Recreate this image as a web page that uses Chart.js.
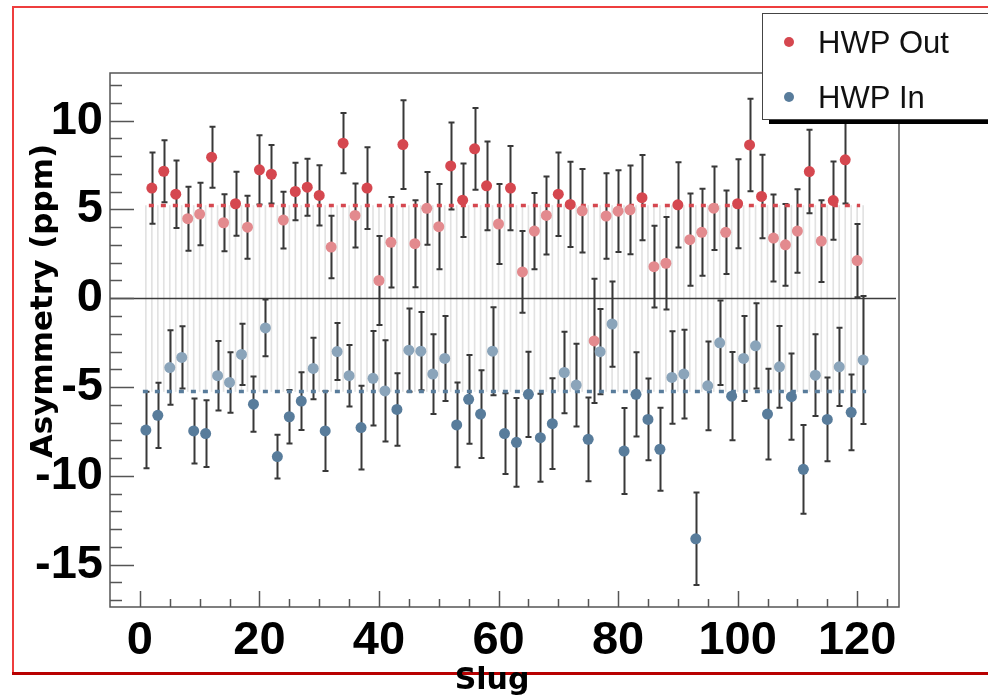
<!DOCTYPE html>
<html>
<head>
<meta charset="utf-8">
<title>Asymmetry vs Slug</title>
<script src="https://cdn.jsdelivr.net/npm/chart.js@4.4.1/dist/chart.umd.min.js"></script>
<style>
  html, body { margin: 0; padding: 0; background: #fff; }
  canvas { display: block; }
</style>
</head>
<body>
<canvas id="asymChart" width="988" height="698"></canvas>
<script>
// HWP Out (even slugs)
const slugsOut = [2, 4, 6, 8, 10, 12, 14, 16, 18, 20, 22, 24, 26, 28, 30, 32, 34, 36, 38, 40,
  42, 44, 46, 48, 50, 52, 54, 56, 58, 60, 62, 64, 66, 68, 70, 72, 74, 76, 78, 80,
  82, 84, 86, 88, 90, 92, 94, 96, 98, 100, 102, 104, 106, 108, 110, 112, 114, 116, 118, 120];
const asymOut = [6.2, 7.15, 5.86, 4.48, 4.74, 7.94, 4.25, 5.32, 4.0, 7.23,
  6.98, 4.4, 6.01, 6.25, 5.79, 2.88, 8.73, 4.66, 6.2, 1.0,
  3.15, 8.65, 3.07, 5.06, 4.03, 7.45, 5.52, 8.41, 6.33, 4.18,
  6.2, 1.48, 3.78, 4.66, 5.86, 5.28, 4.92, -2.4, 4.63, 4.9,
  4.98, 5.66, 1.78, 1.97, 5.26, 3.3, 3.71, 5.07, 3.71, 5.32,
  8.63, 5.73, 3.39, 3.01, 3.78, 7.13, 3.22, 5.5, 7.79, 2.12];
const errOut = [2.0, 1.75, 1.9, 1.8, 1.76, 1.72, 1.6, 1.8, 1.77, 1.95,
  1.65, 1.6, 1.62, 1.6, 1.7, 1.76, 1.7, 1.8, 2.3, 2.5,
  2.55, 2.5, 2.45, 2.05, 2.4, 2.45, 2.07, 2.3, 2.5, 2.25,
  2.37, 2.3, 2.15, 2.2, 2.35, 2.4, 2.35, 3.5, 2.4, 2.3,
  2.5, 2.4, 2.3, 2.6, 2.4, 2.6, 2.45, 2.35, 2.35, 2.5,
  2.6, 2.35, 2.45, 2.3, 2.35, 2.35, 2.3, 2.2, 2.45, 2.06];

// HWP In (odd slugs)
const slugsIn = [1, 3, 5, 7, 9, 11, 13, 15, 17, 19, 21, 23, 25, 27, 29, 31, 33, 35, 37, 39,
  41, 43, 45, 47, 49, 51, 53, 55, 57, 59, 61, 63, 65, 67, 69, 71, 73, 75, 77, 79,
  81, 83, 85, 87, 89, 91, 93, 95, 97, 99, 101, 103, 105, 107, 109, 111, 113, 115, 117, 119, 121];
const asymIn = [-7.42, -6.59, -3.9, -3.33, -7.47, -7.62, -4.36, -4.74, -3.16, -5.96,
  -1.67, -8.91, -6.67, -5.79, -3.95, -7.47, -3.0, -4.36, -7.28, -4.51,
  -5.22, -6.26, -2.92, -2.98, -4.27, -3.39, -7.13, -5.69, -6.52, -2.98,
  -7.62, -8.11, -5.41, -7.85, -7.06, -4.18, -4.89, -7.94, -3.01, -1.45,
  -8.6, -5.41, -6.82, -8.5, -4.46, -4.27, -13.54, -4.93, -2.51, -5.51,
  -3.39, -2.68, -6.52, -3.86, -5.54, -9.63, -4.33, -6.82, -3.86, -6.42,
  -3.48];
const errIn = [2.15, 1.84, 2.1, 1.75, 1.83, 1.88, 1.96, 1.7, 1.72, 1.56,
  1.6, 1.23, 1.5, 1.63, 1.73, 2.25, 1.6, 1.73, 2.36, 2.66,
  2.85, 2.04, 2.34, 2.2, 2.25, 2.39, 2.39, 2.5, 2.47, 2.48,
  2.27, 2.5, 2.4, 2.48, 2.55, 2.3, 2.33, 2.36, 2.4, 2.4,
  2.42, 2.37, 2.3, 2.34, 2.6, 2.5, 2.6, 2.5, 2.38, 2.48,
  2.39, 2.4, 2.55, 2.3, 2.43, 2.5, 2.3, 2.36, 2.2, 2.13,
  3.6];

// fitted averages
const meanOut = 5.22;
const meanIn = -5.25;

const xTickLabels = [0, 20, 40, 60, 80, 100, 120];
const yTickLabels = [-15, -10, -5, 0, 5, 10];

const RED = '#d5474f', RED_LIGHT = '#e38a8e';
const BLUE = '#587c9b', BLUE_LIGHT = '#8aa4ba';
const tickFont = { family: 'Liberation Sans', size: 47, weight: 'bold' };

const allSlugs = slugsIn.concat(slugsOut).sort((a, b) => a - b);

function pts(xs, ys) {
    return xs.map((x, i) => ({ x: x, y: ys[i] }));
}

function errorBars(chart, xs, ys, es) {
    const ctx = chart.ctx;
    const sx = chart.scales.x, sy = chart.scales.y;
    ctx.save();
    ctx.strokeStyle = '#383838';
    ctx.lineWidth = 2;
    xs.forEach((s, i) => {
        const px = Math.round(sx.getPixelForValue(s)) + 0.5;
        const top = sy.getPixelForValue(ys[i] + es[i]);
        const bot = sy.getPixelForValue(ys[i] - es[i]);
        ctx.beginPath();
        ctx.moveTo(px, top); ctx.lineTo(px, bot);
        ctx.moveTo(px - 3, top); ctx.lineTo(px + 3, top);
        ctx.moveTo(px - 3, bot); ctx.lineTo(px + 3, bot);
        ctx.stroke();
    });
    ctx.restore();
}

const rootLook = {
    id: 'rootLook',
    beforeDraw(chart) {
        // red canvas outline
        const ctx = chart.ctx;
        ctx.save();
        ctx.strokeStyle = '#ee3d3d';
        ctx.lineWidth = 2;
        ctx.strokeRect(13, 7, 990, 666);
        ctx.strokeStyle = '#b80000';
        ctx.lineWidth = 3;
        ctx.beginPath();
        ctx.moveTo(12, 673.5); ctx.lineTo(988, 673.5);
        ctx.stroke();
        ctx.restore();
    },
    afterDatasetDraw(chart, args) {
        if (args.index !== 2) return;
        const ctx = chart.ctx;
        const a = chart.chartArea;
        const y0 = Math.round(chart.scales.y.getPixelForValue(0)) + 0.5;
        ctx.save();
        ctx.strokeStyle = '#3c3c3c';
        ctx.lineWidth = 1.5;
        ctx.beginPath();
        ctx.moveTo(a.left, y0); ctx.lineTo(a.right - 3, y0);
        ctx.stroke();
        ctx.restore();
        errorBars(chart, slugsOut, asymOut, errOut);
        errorBars(chart, slugsIn, asymIn, errIn);
    },
    afterDatasetsDraw(chart) {
        const ctx = chart.ctx;
        const a = chart.chartArea;
        const sx = chart.scales.x, sy = chart.scales.y;
        ctx.save();
        ctx.strokeStyle = '#555';
        ctx.lineWidth = 1.5;
        ctx.strokeRect(a.left, a.top, a.right - a.left, a.bottom - a.top);
        ctx.beginPath();
        for (let v = Math.ceil(sy.min); v <= Math.floor(sy.max); v++) {
            const py = Math.round(sy.getPixelForValue(v)) + 0.5;
            ctx.moveTo(a.left, py);
            ctx.lineTo(a.left + (v % 5 === 0 ? 24 : 12), py);
        }
        for (let v = 0; v <= sx.max; v += 5) {
            const px = Math.round(sx.getPixelForValue(v)) + 0.5;
            ctx.moveTo(px, a.bottom);
            ctx.lineTo(px, a.bottom - (v % 20 === 0 ? 16 : 8));
        }
        ctx.stroke();
        ctx.restore();
    },
    afterDraw(chart) {
        const ctx = chart.ctx;
        ctx.save();
        // axis titles
        ctx.fillStyle = '#000';
        ctx.font = 'bold 30px "DejaVu Sans"';
        ctx.textAlign = 'center';
        ctx.textBaseline = 'alphabetic';
        ctx.fillText('Slug', 492, 689);
        ctx.translate(52, 301);
        ctx.rotate(-Math.PI / 2);
        ctx.font = 'bold 31px "DejaVu Sans"';
        ctx.fillText('Asymmetry (ppm)', 0, 0);
        ctx.restore();

        // legend box with shadow
        ctx.save();
        ctx.fillStyle = '#000';
        ctx.fillRect(769, 120, 230, 4);
        ctx.fillStyle = '#fff';
        ctx.fillRect(762, 13, 240, 107);
        ctx.strokeStyle = '#444';
        ctx.lineWidth = 1;
        ctx.strokeRect(762.5, 13.5, 240, 106);
        const items = chart.data.datasets.slice(0, 2);
        items.forEach((ds, i) => {
            const cy = 42 + i * 55;
            ctx.fillStyle = i === 0 ? RED : BLUE;
            ctx.beginPath();
            ctx.arc(789, cy, 5, 0, Math.PI * 2);
            ctx.fill();
            ctx.fillStyle = '#111';
            ctx.font = '31px "Liberation Sans"';
            ctx.textBaseline = 'alphabetic';
            ctx.fillText(ds.label, 818, cy + 11);
        });
        ctx.restore();
    }
};

function shade(base, light) {
    return c => {
        const v = c.raw ? c.raw.y : 0;
        return (v < meanOut && v > meanIn) ? light : base;
    };
}

new Chart(document.getElementById('asymChart'), {
    type: 'scatter',
    data: {
        datasets: [
            {
                label: 'HWP Out',
                data: pts(slugsOut, asymOut),
                backgroundColor: shade(RED, RED_LIGHT),
                borderWidth: 0,
                pointRadius: 5.5,
                order: 1
            },
            {
                label: 'HWP In',
                data: pts(slugsIn, asymIn),
                backgroundColor: shade(BLUE, BLUE_LIGHT),
                borderWidth: 0,
                pointRadius: 5.5,
                order: 1
            },
            {
                type: 'bar',
                label: 'band',
                data: allSlugs.map(s => ({ x: s, y: [meanIn, meanOut] })),
                backgroundColor: '#e2e2e2',
                barThickness: 1,
                grouped: false,
                order: 3
            },
            {
                type: 'line',
                label: 'mean out',
                data: [{ x: slugsOut[0] - 0.5, y: meanOut }, { x: slugsOut[slugsOut.length - 1] + 0.5, y: meanOut }],
                borderColor: RED,
                borderWidth: 3.5,
                borderDash: [5, 7],
                pointRadius: 0,
                order: 2
            },
            {
                type: 'line',
                label: 'mean in',
                data: [{ x: slugsIn[0] - 0.5, y: meanIn }, { x: slugsIn[slugsIn.length - 1] + 0.5, y: meanIn }],
                borderColor: BLUE,
                borderWidth: 3.5,
                borderDash: [5, 7],
                pointRadius: 0,
                order: 2
            }
        ]
    },
    options: {
        responsive: false,
        animation: false,
        layout: { padding: { top: 73, right: 89, left: 0, bottom: 0 } },
        plugins: { legend: { display: false }, tooltip: { enabled: false } },
        scales: {
            x: {
                type: 'linear',
                min: -5,
                max: 127,
                offset: false,
                grid: { display: false, drawTicks: false, offset: false },
                border: { display: false },
                ticks: {
                    stepSize: 20,
                    includeBounds: false,
                    autoSkip: false,
                    maxRotation: 0,
                    padding: 6,
                    color: '#000',
                    font: tickFont,
                    callback: v => xTickLabels.includes(v) ? String(v) : ''
                },
                afterFit(scale) { scale.height = 91; }
            },
            y: {
                type: 'linear',
                min: -17.38,
                max: 12.68,
                grid: { display: false, drawTicks: false },
                border: { display: false },
                ticks: {
                    stepSize: 5,
                    includeBounds: false,
                    padding: 7,
                    color: '#000',
                    font: tickFont,
                    callback: v => yTickLabels.includes(v) ? String(v) : ''
                },
                afterFit(scale) { scale.width = 110; }
            }
        }
    },
    plugins: [rootLook]
});
</script>
</body>
</html>
